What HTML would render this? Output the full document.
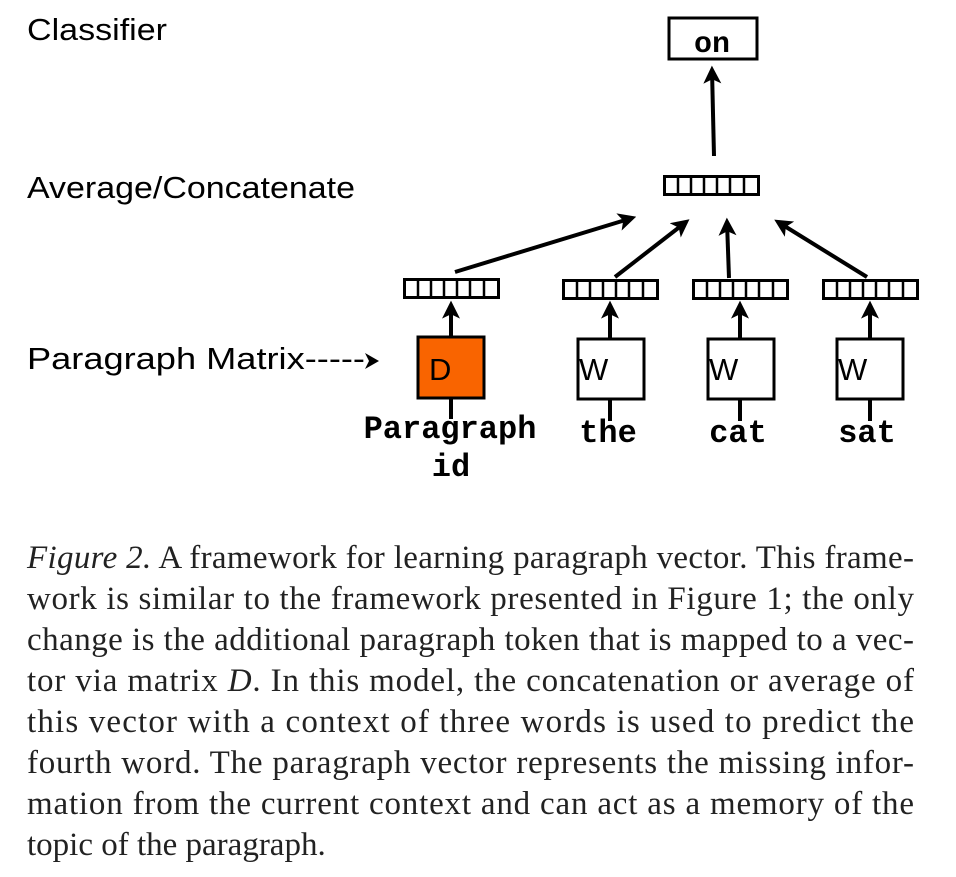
<!DOCTYPE html>
<html><head><meta charset="utf-8"><style>
html,body{margin:0;padding:0;background:#fff;}
svg{display:block}
.s{font-family:"Liberation Sans",Arial,sans-serif;fill:#000}
.m{font-family:"Liberation Mono","Courier New",monospace;font-weight:bold;fill:#000}
.t{font-family:"Liberation Serif","Times New Roman",serif;font-size:33px;fill:#222}
</style></head><body>
<svg width="956" height="877" viewBox="0 0 956 877" xmlns="http://www.w3.org/2000/svg">
<defs>
<marker id="ah" markerWidth="4.5" markerHeight="4.5" refX="3.4" refY="2.25" orient="auto" markerUnits="strokeWidth">
<path d="M0,0 L4.5,2.25 L0,4.5 L1.1,2.25 Z" fill="#000"/>
</marker>
<g id="vec">
<rect x="1.5" y="1.5" width="94" height="18" fill="#fff" stroke="#000" stroke-width="3"/>
<g stroke="#000" stroke-width="2.5">
<line x1="15" y1="2" x2="15" y2="19"/><line x1="28" y1="2" x2="28" y2="19"/>
<line x1="41" y1="2" x2="41" y2="19"/><line x1="54" y1="2" x2="54" y2="19"/>
<line x1="67" y1="2" x2="67" y2="19"/><line x1="81" y1="2" x2="81" y2="19"/>
</g>
</g>
</defs>

<text class="s" x="27" y="40" font-size="31" textLength="140" lengthAdjust="spacingAndGlyphs">Classifier</text>
<text class="s" x="27" y="198" font-size="31" textLength="328" lengthAdjust="spacingAndGlyphs">Average/Concatenate</text>
<text class="s" x="27" y="369" font-size="31" textLength="338" lengthAdjust="spacingAndGlyphs">Paragraph Matrix-----</text>
<path d="M365,353 L379,361 L365,369 L369,361 Z" fill="#000"/>

<rect x="669" y="18" width="88" height="41" fill="#fff" stroke="#000" stroke-width="3"/>
<text class="m" x="712" y="52" font-size="30" text-anchor="middle">on</text>
<line x1="714" y1="156" x2="712" y2="70" stroke="#000" stroke-width="4" marker-end="url(#ah)"/>

<use href="#vec" x="663" y="175"/>
<use href="#vec" x="403" y="278"/>
<use href="#vec" x="562" y="279"/>
<use href="#vec" x="692" y="279"/>
<use href="#vec" x="822" y="279"/>

<g stroke="#000" stroke-width="4">
<line x1="455" y1="272" x2="632" y2="218" marker-end="url(#ah)"/>
<line x1="615" y1="277" x2="686" y2="222" marker-end="url(#ah)"/>
<line x1="729" y1="278" x2="727" y2="222" marker-end="url(#ah)"/>
<line x1="867" y1="277" x2="778" y2="222" marker-end="url(#ah)"/>
<line x1="451" y1="336" x2="451" y2="305" marker-end="url(#ah)"/>
<line x1="610" y1="338" x2="610" y2="305" marker-end="url(#ah)"/>
<line x1="740" y1="338" x2="740" y2="305" marker-end="url(#ah)"/>
<line x1="870" y1="338" x2="870" y2="305" marker-end="url(#ah)"/>
<line x1="451" y1="398" x2="451" y2="419"/>
<line x1="610" y1="399" x2="610" y2="421"/>
<line x1="740" y1="399" x2="740" y2="421"/>
<line x1="870" y1="399" x2="870" y2="421"/>
</g>

<rect x="418" y="337" width="66" height="61" fill="#f96400" stroke="#000" stroke-width="3"/>
<text class="s" x="429" y="380" font-size="31">D</text>
<rect x="578" y="339" width="66" height="60" fill="#fff" stroke="#000" stroke-width="3"/>
<text class="s" x="579" y="380" font-size="31">W</text>
<rect x="708" y="339" width="66" height="60" fill="#fff" stroke="#000" stroke-width="3"/>
<text class="s" x="709" y="380" font-size="31">W</text>
<rect x="837" y="339" width="66" height="60" fill="#fff" stroke="#000" stroke-width="3"/>
<text class="s" x="838" y="380" font-size="31">W</text>

<text class="m" x="450" y="438" font-size="32" text-anchor="middle">Paragraph</text>
<text class="m" x="451" y="476" font-size="32" text-anchor="middle">id</text>
<text class="m" x="608" y="442" font-size="32" text-anchor="middle">the</text>
<text class="m" x="738" y="442" font-size="32" text-anchor="middle">cat</text>
<text class="m" x="867" y="442" font-size="32" text-anchor="middle">sat</text>

<text class="t" x="27" y="568" textLength="887" lengthAdjust="spacing"><tspan font-style="italic">Figure 2.</tspan> A framework for learning paragraph vector. This frame-</text>
<text class="t" x="27" y="609" textLength="887" lengthAdjust="spacing">work is similar to the framework presented in Figure 1; the only</text>
<text class="t" x="27" y="650" textLength="887" lengthAdjust="spacing">change is the additional paragraph token that is mapped to a vec-</text>
<text class="t" x="27" y="691" textLength="887" lengthAdjust="spacing">tor via matrix <tspan font-style="italic">D</tspan>. In this model, the concatenation or average of</text>
<text class="t" x="27" y="732" textLength="887" lengthAdjust="spacing">this vector with a context of three words is used to predict the</text>
<text class="t" x="27" y="773" textLength="887" lengthAdjust="spacing">fourth word. The paragraph vector represents the missing infor-</text>
<text class="t" x="27" y="814" textLength="887" lengthAdjust="spacing">mation from the current context and can act as a memory of the</text>
<text class="t" x="27" y="855">topic of the paragraph.</text>
</svg>
</body></html>
